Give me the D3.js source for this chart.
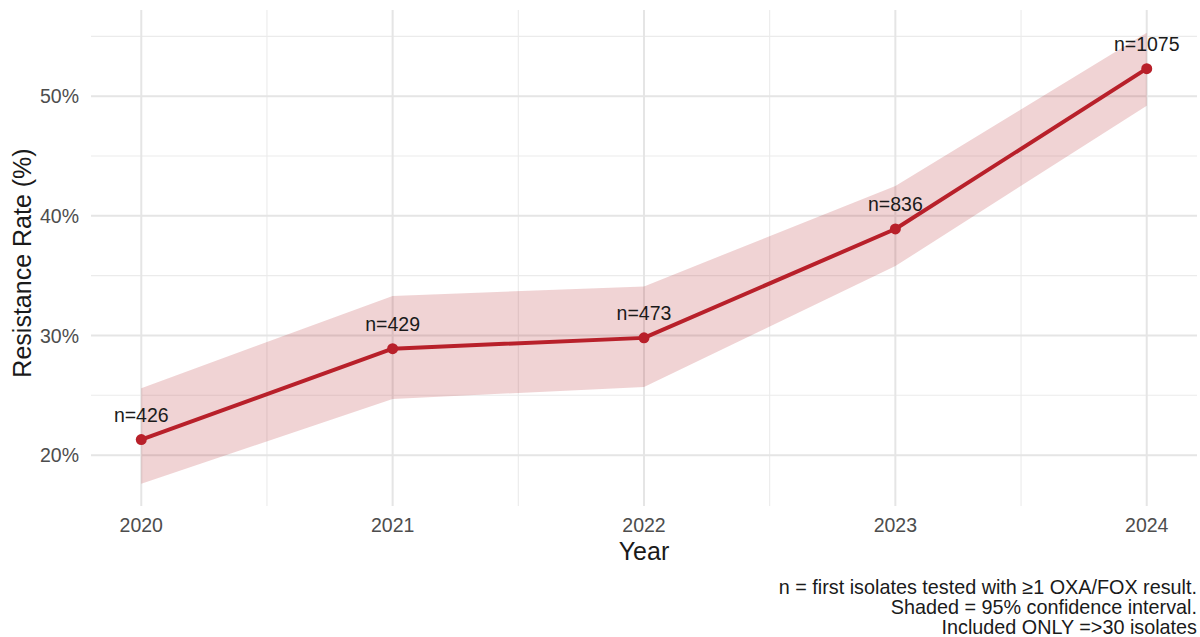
<!DOCTYPE html>
<html><head><meta charset="utf-8">
<script src="https://cdn.jsdelivr.net/npm/d3@7/dist/d3.min.js"></script>
<style>body{margin:0;background:#fff}svg{display:block}</style>
</head><body>
<svg id="c" width="1200" height="637"></svg>
<script>
const years = [2020, 2021, 2022, 2023, 2024];
const rate = [21.3, 28.9, 29.8, 38.9, 52.3];
const ciLow = [17.6, 24.7, 25.7, 35.8, 49.2];
const ciHigh = [25.6, 33.3, 34.1, 42.5, 55.3];
const nLabels = ["n=426", "n=429", "n=473", "n=836", "n=1075"];
const yTicks = [20, 30, 40, 50];
const yMinor = [15, 25, 35, 45, 55];
const xMinor = [2020.5, 2021.5, 2022.5, 2023.5];
const caption = ["n = first isolates tested with \u22651 OXA/FOX result.", "Shaded = 95% confidence interval.", "Included ONLY =>30 isolates"];

const data = years.map((y, i) => ({year: y, rate: rate[i], lo: ciLow[i], hi: ciHigh[i], n: nLabels[i]}));
const svg = d3.select("#c");
const L = 91, R = 1197, T = 10, B = 506;
const x = d3.scaleLinear().domain([2019.8, 2024.2]).range([L, R]);
const y = d3.scaleLinear().domain([15.75, 57.2]).range([B, T]);
const font = "Liberation Sans, Arial, Helvetica, sans-serif";

const g = svg.append("g");
// grid
g.selectAll(".hmin").data(yMinor.filter(v => y(v) >= T && y(v) <= B)).join("line")
  .attr("x1", L).attr("x2", R).attr("y1", d => y(d)).attr("y2", d => y(d))
  .attr("stroke", "#ebebeb").attr("stroke-width", 1.1);
g.selectAll(".vmin").data(xMinor).join("line")
  .attr("x1", d => x(d)).attr("x2", d => x(d)).attr("y1", T).attr("y2", B)
  .attr("stroke", "#ebebeb").attr("stroke-width", 1.1);
g.selectAll(".hmaj").data(yTicks).join("line")
  .attr("x1", L).attr("x2", R).attr("y1", d => y(d)).attr("y2", d => y(d))
  .attr("stroke", "#e5e5e5").attr("stroke-width", 2);
g.selectAll(".vmaj").data(years).join("line")
  .attr("x1", d => x(d)).attr("x2", d => x(d)).attr("y1", T).attr("y2", B)
  .attr("stroke", "#e5e5e5").attr("stroke-width", 2);

// ribbon
const area = d3.area().x(d => x(d.year)).y0(d => y(d.lo)).y1(d => y(d.hi));
g.append("path").datum(data).attr("d", area).attr("fill", "#b22228").attr("fill-opacity", 0.2);

// line
const line = d3.line().x(d => x(d.year)).y(d => y(d.rate));
g.append("path").datum(data).attr("d", line).attr("fill", "none")
  .attr("stroke", "#b8202a").attr("stroke-width", 4).attr("stroke-linejoin", "round");
g.selectAll(".pt").data(data).join("circle")
  .attr("cx", d => x(d.year)).attr("cy", d => y(d.rate)).attr("r", 5.5).attr("fill", "#b8202a");

// labels
g.selectAll(".lab").data(data).join("text")
  .attr("x", d => x(d.year)).attr("y", d => y(d.rate) - 18)
  .attr("text-anchor", "middle").attr("font-family", font).attr("font-size", 19.5)
  .attr("fill", "#1a1a1a").text(d => d.n);

// axes labels
g.selectAll(".yt").data(yTicks).join("text")
  .attr("x", 79).attr("y", d => y(d)).attr("dy", "0.36em").attr("text-anchor", "end")
  .attr("font-family", font).attr("font-size", 19.5).attr("fill", "#4d4d4d")
  .text(d => d + "%");
g.selectAll(".xt").data(years).join("text")
  .attr("x", d => x(d)).attr("y", 532).attr("text-anchor", "middle")
  .attr("font-family", font).attr("font-size", 19.5).attr("fill", "#4d4d4d").text(d => d);

svg.append("text").attr("x", (L + R) / 2).attr("y", 560).attr("text-anchor", "middle")
  .attr("font-family", font).attr("font-size", 25).attr("fill", "#1a1a1a").text("Year");
svg.append("text").attr("transform", `translate(31,${(T + B) / 2 + 5}) rotate(-90)`)
  .attr("text-anchor", "middle").attr("font-family", font).attr("font-size", 25)
  .attr("fill", "#1a1a1a").text("Resistance Rate (%)");

svg.selectAll(".cap").data(caption).join("text")
  .attr("x", 1197).attr("y", (d, i) => 594 + i * 19.8).attr("text-anchor", "end")
  .attr("font-family", font).attr("font-size", 19.8).attr("fill", "#1a1a1a").text(d => d);
</script>
</body></html>
